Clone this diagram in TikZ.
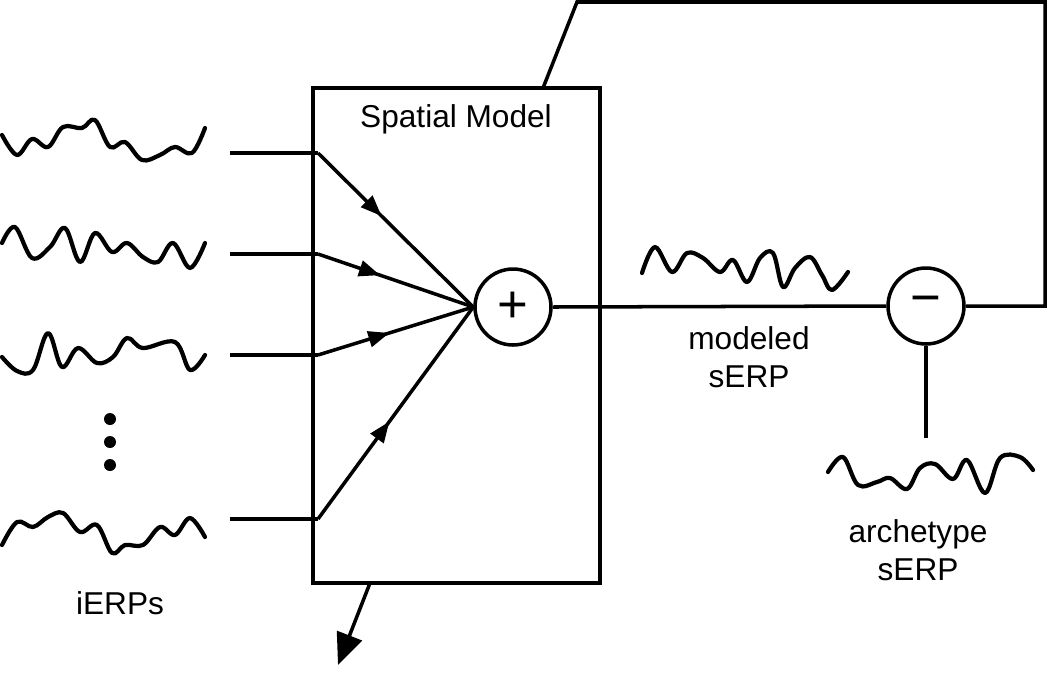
\documentclass[tikz,border=0pt]{standalone}
\usepackage{fontspec}
\setmainfont{Liberation Sans}
\usetikzlibrary{arrows.meta,decorations.markings}
\begin{document}
\begin{tikzpicture}[x=0.02cm,y=-0.02cm,line width=2pt,
	wave/.style={line width=2.4pt,line join=round,line cap=round},
	junction/.style={draw,line width=2pt,shape=circle,minimum size=1.52cm,inner sep=0pt,font=\fontsize{30}{30}\selectfont},
	txt/.style={font=\fontsize{18}{21.5}\selectfont,align=center},
	midarrow/.style={postaction={decorate},decoration={markings,
		mark=at position #1 with {\arrow{Triangle[length=12pt,width=9pt]}}}}]
\useasboundingbox (0,0) rectangle (1050,677);
% model box and the two junctions
\node[draw,line width=2pt,minimum width=5.74cm,minimum height=9.9cm,name=model] at (456.5,335.5){};
\node[txt,anchor=base] at (456,127){Spatial Model};
\node[junction,name=sum] at (513,307){+};
\node[junction,name=diff] at (926,306){−};
% inputs
\foreach \i/\y in {1/153,2/254,3/355,4/519}{
	\coordinate (in\i) at (230,\y);
	\coordinate (b\i) at (318,\y);
	\draw (in\i)--(b\i);
};
\foreach \i/\p in {1/0.41,2/0.40,3/0.46,4/0.46}{
	\draw[midarrow=\p] (b\i)--(sum.west);
};
\draw (sum.east)--(diff.west);
% feedback to the model
\coordinate (c1) at (1045,2);
\coordinate (c2) at (577,2);
\coordinate (c3) at (543,88);
\draw (diff.east)-|(c1)--(c2)--(c3);
\coordinate (arch) at (926,438);
\draw (diff.south)--(arch);
% output of the model
\coordinate (o1) at (370,583);
\coordinate (o2) at (338,665);
\draw[-{Triangle[length=18pt,width=15pt]}] (o1)--(o2);
% dots
\foreach \y in {419,442,465}{
	\fill (110,\y) circle (6);
};
% signals
\draw[wave] plot[smooth,tension=0.6] coordinates {(2,135) (17,155) (32,139) (48,147) (63,127) (82,128) (95,120) (110,147) (125,142) (142,160) (160,155) (175,147) (192,153) (205,128)};
\draw[wave] plot[smooth,tension=0.6] coordinates {(2,243) (15,227) (32,258) (50,247) (65,228) (80,262) (95,233) (112,252) (127,243) (143,257) (158,262) (173,243) (190,268) (205,243)};
\draw[wave] plot[smooth,tension=0.6] coordinates {(2,357) (17,371) (33,370) (48,333) (62,367) (78,348) (97,363) (113,357) (127,338) (143,348) (175,342) (190,370) (205,355)};
\draw[wave] plot[smooth,tension=0.6] coordinates {(2,545) (17,522) (33,527) (48,517) (63,513) (80,532) (97,525) (112,553) (125,545) (143,545) (160,527) (175,535) (190,518) (205,537)};
\draw[wave] plot[smooth,tension=0.6] coordinates {(642,273) (655,247) (672,272) (687,253) (703,258) (720,272) (733,260) (747,282) (760,258) (773,253) (783,287) (795,268) (810,257) (822,275) (832,290) (848,272)};
\draw[wave] plot[smooth,tension=0.6] coordinates {(828,472) (843,457) (858,485) (877,482) (890,478) (907,489) (920,468) (935,464) (953,479) (967,460) (985,493) (1000,458) (1020,457) (1033,470)};
% labels
\node[txt] at (120,603){iERPs};
\node[txt] at (749,357){modeled\\sERP};
\node[txt] at (918,550){archetype\\sERP};
\end{tikzpicture}
\end{document}
